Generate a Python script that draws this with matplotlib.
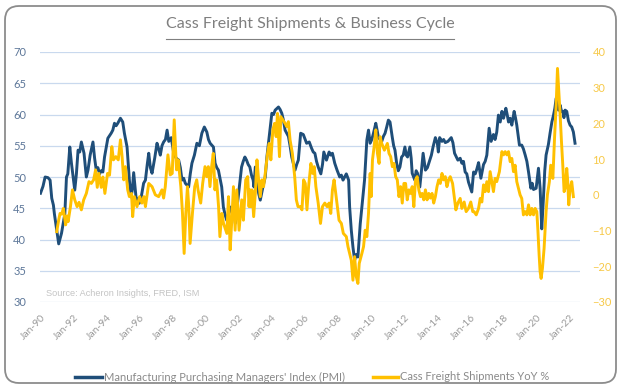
import matplotlib
matplotlib.use("Agg")
import matplotlib.pyplot as plt
from matplotlib.patches import FancyBboxPatch
from matplotlib.lines import Line2D
from matplotlib.transforms import IdentityTransform

# ---------------- data (decimal year, value) ----------------
pmi_t = [1990.00, 1990.15, 1990.28, 1990.45, 1990.58, 1990.68, 1990.78, 1990.84, 1990.98, 1991.10,
         1991.27, 1991.40, 1991.47, 1991.57, 1991.65, 1991.77, 1991.87, 1992.07, 1992.17, 1992.27,
         1992.37, 1992.47, 1992.63, 1992.77, 1992.87, 1993.00, 1993.17, 1993.27, 1993.37, 1993.47,
         1993.57, 1993.67, 1993.77, 1993.87, 1994.07, 1994.27, 1994.37, 1994.47, 1994.57, 1994.67,
         1994.83, 1994.97, 1995.07, 1995.23, 1995.37, 1995.47, 1995.55, 1995.63, 1995.77, 1995.97,
         1996.10, 1996.23, 1996.34, 1996.45, 1996.54, 1996.64, 1996.74, 1996.90, 1997.04, 1997.14,
         1997.24, 1997.34, 1997.44, 1997.55, 1997.65, 1997.75, 1997.90, 1998.05, 1998.20, 1998.35,
         1998.45, 1998.55, 1998.65, 1998.75, 1998.95, 1999.05, 1999.15, 1999.30, 1999.45, 1999.60,
         1999.75, 1999.90, 2000.05, 2000.15, 2000.25, 2000.45, 2000.55, 2000.65, 2000.75, 2000.95,
         2001.05, 2001.15, 2001.25, 2001.35, 2001.45, 2001.55, 2001.65, 2001.70, 2001.77, 2001.95,
         2002.05, 2002.15, 2002.25, 2002.35, 2002.45, 2002.55, 2002.65, 2002.75, 2002.85, 2002.90,
         2002.98, 2003.08, 2003.18, 2003.28, 2003.44, 2003.58, 2003.68, 2003.84, 2003.98, 2004.08,
         2004.18, 2004.38, 2004.48, 2004.58, 2004.68, 2004.78, 2004.88, 2004.98, 2005.08, 2005.18,
         2005.38, 2005.48, 2005.58, 2005.72, 2005.88, 2006.08, 2006.24, 2006.38, 2006.48, 2006.58,
         2006.68, 2006.78, 2006.94, 2007.04, 2007.12, 2007.28, 2007.44, 2007.54, 2007.64, 2007.78,
         2007.92, 2008.08, 2008.18, 2008.28, 2008.38, 2008.48, 2008.62, 2008.68, 2008.78, 2008.88,
         2008.98, 2009.08, 2009.18, 2009.32, 2009.45, 2009.58, 2009.72, 2009.82, 2009.92, 2010.02,
         2010.12, 2010.26, 2010.34, 2010.42, 2010.52, 2010.62, 2010.72, 2010.82, 2010.92, 2011.02,
         2011.12, 2011.26, 2011.34, 2011.42, 2011.52, 2011.62, 2011.72, 2011.82, 2011.92, 2012.02,
         2012.10, 2012.18, 2012.32, 2012.40, 2012.46, 2012.62, 2012.70, 2012.78, 2012.92, 2013.02,
         2013.12, 2013.26, 2013.38, 2013.52, 2013.62, 2013.72, 2013.86, 2013.98, 2014.04, 2014.12,
         2014.26, 2014.36, 2014.46, 2014.62, 2014.72, 2014.82, 2014.92, 2015.02, 2015.22, 2015.36,
         2015.46, 2015.56, 2015.66, 2015.76, 2015.86, 2016.06, 2016.17, 2016.27, 2016.37, 2016.47,
         2016.61, 2016.77, 2016.87, 2016.97, 2017.11, 2017.23, 2017.37, 2017.47, 2017.57, 2017.67,
         2017.78, 2017.88, 2017.98, 2018.12, 2018.20, 2018.28, 2018.38, 2018.48, 2018.62, 2018.70,
         2018.78, 2018.94, 2019.08, 2019.18, 2019.29, 2019.39, 2019.49, 2019.63, 2019.71, 2019.79,
         2019.95, 2020.09, 2020.19, 2020.29, 2020.39, 2020.47, 2020.55, 2020.69, 2020.79, 2020.90,
         2021.00, 2021.08, 2021.16, 2021.30, 2021.40, 2021.48, 2021.56, 2021.63, 2021.70, 2021.80,
         2021.90, 2022.00, 2022.10, 2022.20, 2022.30]
pmi_v = [47.4, 48.5, 50.0, 49.9, 49.5, 46.6, 45.5, 44.1, 41.5, 39.3,
         41.0, 43.0, 44.1, 50.0, 50.5, 54.8, 52.2, 47.9, 50.5, 54.3,
         54.0, 55.6, 53.8, 50.0, 51.1, 53.5, 55.6, 53.0, 51.1, 51.5,
         50.5, 51.0, 50.8, 53.2, 56.2, 57.0, 57.5, 58.6, 58.2, 58.6,
         59.4, 58.8, 57.0, 54.8, 49.5, 46.8, 48.0, 50.7, 46.8, 45.8,
         47.0, 49.0, 49.5, 52.0, 53.8, 51.5, 50.6, 53.0, 55.4, 54.5,
         53.5, 55.0, 55.6, 56.0, 57.5, 55.7, 56.3, 53.8, 53.0, 52.7,
         51.5, 49.5, 49.8, 49.0, 48.4, 50.5, 52.2, 53.5, 55.4, 55.0,
         57.0, 58.0, 57.2, 56.0, 55.4, 54.8, 52.2, 51.5, 51.1, 48.4,
         45.2, 44.0, 43.1, 44.0, 45.2, 44.5, 43.6, 46.6, 42.6, 46.8,
         49.0, 51.6, 52.5, 53.2, 52.7, 52.0, 51.6, 50.3, 49.5, 48.4,
         51.6, 49.5, 47.4, 46.3, 48.4, 50.0, 53.2, 57.0, 60.2, 60.0,
         60.7, 61.2, 60.8, 60.2, 59.1, 57.5, 57.0, 56.5, 55.0, 53.2,
         51.1, 52.0, 52.7, 57.0, 56.8, 55.4, 55.6, 54.6, 54.0, 53.8,
         52.5, 51.6, 50.5, 52.0, 54.0, 52.7, 54.0, 53.5, 53.8, 52.2,
         51.1, 50.0, 50.3, 49.5, 50.0, 50.5, 49.5, 45.2, 41.5, 38.8,
         36.7, 37.6, 37.2, 42.5, 46.0, 49.5, 55.9, 57.5, 55.4, 56.0,
         57.0, 58.6, 57.5, 56.3, 56.0, 55.7, 56.5, 57.0, 58.0, 59.1,
         58.8, 56.3, 55.0, 54.3, 52.2, 51.0, 51.6, 53.2, 53.5, 54.8,
         53.5, 53.2, 54.8, 53.0, 50.6, 49.5, 51.0, 50.6, 48.4, 51.0,
         53.8, 51.1, 51.5, 52.7, 53.5, 54.8, 56.3, 55.4, 54.0, 56.3,
         55.7, 56.0, 55.5, 55.7, 56.0, 56.3, 55.5, 53.8, 52.7, 53.0,
         52.2, 52.5, 50.8, 50.5, 49.2, 47.6, 50.8, 50.5, 51.3, 52.3,
         49.8, 52.0, 52.5, 53.5, 57.8, 55.7, 56.8, 56.0, 57.2, 59.9,
         58.8, 60.5, 59.4, 61.0, 60.0, 58.8, 59.4, 58.3, 60.5, 59.5,
         58.3, 55.1, 55.1, 54.5, 53.5, 52.5, 50.8, 48.2, 49.0, 48.0,
         48.2, 51.4, 48.2, 41.7, 46.6, 51.0, 53.5, 55.2, 57.0, 58.8,
         59.9, 61.0, 62.6, 60.7, 61.5, 60.5, 60.5, 59.5, 60.7, 60.5,
         59.0, 58.3, 58.0, 57.2, 55.4]

cass_t = [1990.98, 1991.10, 1991.18, 1991.28, 1991.38, 1991.52, 1991.60, 1991.67, 1991.81, 1991.93,
          1992.07, 1992.21, 1992.33, 1992.47, 1992.61, 1992.77, 1992.93, 1993.07, 1993.21, 1993.33,
          1993.43, 1993.53, 1993.67, 1993.77, 1993.89, 1994.05, 1994.17, 1994.31, 1994.41, 1994.55,
          1994.70, 1994.83, 1994.93, 1995.03, 1995.13, 1995.27, 1995.37, 1995.50, 1995.57, 1995.67,
          1995.83, 1995.99, 1996.13, 1996.25, 1996.34, 1996.54, 1996.74, 1996.94, 1997.14, 1997.34,
          1997.44, 1997.54, 1997.70, 1997.84, 1997.96, 1998.08, 1998.22, 1998.32, 1998.48, 1998.58,
          1998.68, 1998.78, 1998.88, 1998.96, 1999.04, 1999.18, 1999.32, 1999.44, 1999.52, 1999.60,
          1999.68, 1999.80, 1999.94, 2000.04, 2000.14, 2000.24, 2000.34, 2000.44, 2000.54, 2000.64,
          2000.76, 2000.84, 2000.96, 2001.06, 2001.26, 2001.36, 2001.46, 2001.56, 2001.66, 2001.76,
          2001.86, 2002.00, 2002.16, 2002.26, 2002.40, 2002.52, 2002.60, 2002.66, 2002.72, 2002.78,
          2002.88, 2002.98, 2003.08, 2003.18, 2003.28, 2003.38, 2003.48, 2003.58, 2003.72, 2003.82,
          2003.92, 2004.04, 2004.14, 2004.24, 2004.32, 2004.44, 2004.52, 2004.64, 2004.78, 2004.88,
          2004.98, 2005.08, 2005.22, 2005.36, 2005.46, 2005.56, 2005.70, 2005.80, 2005.90, 2006.00,
          2006.10, 2006.20, 2006.34, 2006.44, 2006.54, 2006.64, 2006.78, 2006.92, 2007.04, 2007.18,
          2007.32, 2007.44, 2007.54, 2007.64, 2007.74, 2007.84, 2007.94, 2008.04, 2008.18, 2008.30,
          2008.48, 2008.58, 2008.68, 2008.78, 2008.88, 2008.98, 2009.08, 2009.18, 2009.26, 2009.42,
          2009.52, 2009.62, 2009.72, 2009.82, 2009.92, 2009.98, 2010.06, 2010.16, 2010.26, 2010.36,
          2010.46, 2010.52, 2010.62, 2010.78, 2010.96, 2011.06, 2011.16, 2011.26, 2011.36, 2011.46,
          2011.56, 2011.66, 2011.76, 2011.86, 2011.96, 2012.06, 2012.16, 2012.26, 2012.36, 2012.46,
          2012.56, 2012.66, 2012.76, 2012.86, 2012.96, 2013.06, 2013.16, 2013.26, 2013.36, 2013.46,
          2013.56, 2013.66, 2013.76, 2013.86, 2013.96, 2014.06, 2014.16, 2014.26, 2014.36, 2014.46,
          2014.56, 2014.66, 2014.76, 2014.90, 2015.00, 2015.10, 2015.22, 2015.36, 2015.46, 2015.60,
          2015.72, 2015.86, 2016.00, 2016.12, 2016.20, 2016.33, 2016.47, 2016.57, 2016.67, 2016.77,
          2016.87, 2016.97, 2017.07, 2017.17, 2017.27, 2017.37, 2017.47, 2017.57, 2017.73, 2017.88,
          2017.98, 2018.08, 2018.18, 2018.28, 2018.38, 2018.48, 2018.58, 2018.68, 2018.78, 2018.88,
          2018.98, 2019.08, 2019.18, 2019.29, 2019.39, 2019.49, 2019.59, 2019.69, 2019.79, 2019.89,
          2019.99, 2020.05, 2020.13, 2020.19, 2020.25, 2020.33, 2020.43, 2020.55, 2020.63, 2020.75,
          2020.83, 2020.96, 2021.06, 2021.16, 2021.24, 2021.32, 2021.40, 2021.48, 2021.56, 2021.64,
          2021.70, 2021.80, 2021.86, 2021.92, 2022.00, 2022.10, 2022.20]
cass_v = [-10.3, -7.0, -5.2, -5.4, -3.8, -8.4, -5.9, -7.5, -3.3, 1.4,
          -1.4, -3.3, -2.1, -4.2, -1.4, 0.4, 3.7, 3.2, 4.2, 7.0,
          2.1, 6.0, 2.1, 5.0, 0.4, 6.0, 5.5, 13.5, 9.8, 10.7,
          9.8, 15.4, 10.7, 4.2, 7.9, 1.4, -0.5, 0.4, -6.1, -0.5,
          -3.3, -0.5, -2.3, -0.5, -3.3, 3.2, 2.3, 0.0, -0.5, 1.4,
          -0.9, 2.3, 11.2, 5.6, 6.0, 21.0, 7.0, 9.8, 2.3, -5.2,
          -16.4, -5.2, 2.3, -3.3, -13.6, -5.2, 2.3, 4.2, 1.4, -0.5,
          -2.3, 3.2, 7.9, 5.1, 7.9, 2.3, 7.9, 11.6, 1.4, 4.2,
          -3.3, -11.7, -5.2, -8.0, -10.8, -0.5, -15.4, -7.1, 2.3, -9.9,
          1.4, -9.9, -1.4, -7.1, 4.2, 5.1, -3.3, 1.4, -3.3, 1.4,
          -6.1, 0.4, 9.8, 4.2, -0.5, 4.2, 2.3, 6.0, 11.6, 14.4,
          9.8, 18.2, 20.0, 16.3, 22.8, 10.7, 21.9, 21.0, 20.0, 19.1,
          20.5, 15.4, 11.6, 5.1, -1.4, -3.3, -3.3, -4.2, 4.2, 3.2,
          -4.2, 2.3, 8.8, 6.0, 7.9, 2.3, -2.3, -8.0, -3.3, -2.3,
          -3.3, -2.3, -5.2, 1.4, 4.2, 0.4, -3.3, -7.1, -8.0, -10.8,
          -11.7, -14.5, -16.4, -18.3, -23.9, -17.3, -22.9, -24.8, -19.2, -16.4,
          -14.5, -9.9, -11.7, -5.2, 6.0, -0.5, 9.8, 13.5, 18.2, 11.6,
          8.8, 16.3, 14.4, 12.5, 14.4, 11.6, 10.7, 7.9, 8.8, 5.1,
          4.2, -0.5, 2.3, -2.3, 3.2, 3.2, -1.4, 1.4, 0.4, 2.3,
          -3.3, 4.2, 5.1, 1.4, -0.5, 0.4, -1.4, 1.4, -1.4, 0.4,
          -0.9, 0.4, -2.3, -0.5, 2.3, 4.2, 3.2, 6.0, 4.2, 5.1,
          2.3, 4.2, 5.1, 3.2, -0.5, -4.2, -2.3, -1.0, -3.8, -2.0,
          -4.7, -3.8, -2.0, -4.7, -4.7, -5.6, -3.8, -1.0, -2.0, 2.8,
          0.9, 3.7, 0.9, 6.5, 3.7, 0.9, 4.6, 3.7, 6.5, 12.1,
          11.2, 12.1, 11.2, 12.1, 9.3, 10.2, 6.5, 8.3, 3.7, 1.8,
          0.0, -1.0, -5.6, -4.7, -5.6, -2.8, -5.6, -3.8, -5.6, -3.8,
          -4.7, -9.4, -16.8, -21.5, -23.4, -20.6, -15.0, -4.7, 0.0, 3.7,
          8.3, 4.6, 15.8, 25.2, 35.4, 28.9, 22.4, 14.9, 8.3, 0.9,
          1.8, 7.4, 3.7, -2.8, 1.8, 3.7, -0.5]

tick_years = list(range(1990, 2023, 2))
tick_labels = ["Jan-%02d" % (y % 100) for y in tick_years]
left_ticks = [30, 35, 40, 45, 50, 55, 60, 65, 70]
right_ticks = [-30, -20, -10, 0, 10, 20, 30, 40]

title = "Cass Freight Shipments & Business Cycle"
pmi_name = "Manufacturing Purchasing Managers' Index (PMI)"
cass_name = "Cass Freight Shipments YoY %"
source = "Source: Acheron Insights, FRED, ISM"

# ---------------- styling ----------------
BLUE = "#1f4e79"
GOLD = "#ffc000"
W, H = 621, 388

fig = plt.figure(figsize=(W / 100, H / 100), dpi=100)
fig.patch.set_facecolor("white")

ax = fig.add_axes([40 / W, 1 - 302 / H, 540 / W, 250 / H])
ax2 = ax.twinx()

ax.set_xlim(1989.97, 2022.6)
ax.set_ylim(30, 70)
ax2.set_ylim(-30, 40)

for a in (ax, ax2):
    for s in a.spines.values():
        s.set_visible(False)
    a.set_facecolor("none")

ax.set_yticks(left_ticks)
ax.yaxis.grid(True, color="#c9d9ee", linewidth=0.9)
ax.set_axisbelow(True)
ax.tick_params(axis="y", length=0, pad=10, labelsize=8, labelcolor="#5d7799")
for lab in ax.get_yticklabels():
    lab.set_fontfamily("Lato")

ax2.set_yticks(right_ticks)
ax2.tick_params(axis="y", length=0, pad=9, labelsize=8, labelcolor="#f7c948")
for lab in ax2.get_yticklabels():
    lab.set_fontfamily("Lato")

ax.set_xticks(tick_years)
ax.set_xticklabels(tick_labels, rotation=45, ha="right", rotation_mode="anchor",
                   fontsize=7.5, color="#9a9a9a", fontfamily="Lato")
ax.tick_params(axis="x", length=0, pad=8)

ax.plot(pmi_t, pmi_v, color=BLUE, linewidth=2.1, solid_joinstyle="round", zorder=3)
ax2.plot(cass_t, cass_v, color=GOLD, linewidth=2.1, solid_joinstyle="round", zorder=3)

# source note
fig.text(46 / W, 1 - 294 / H, source, fontsize=6.6, color="#c4c4c4",
         fontfamily="Liberation Sans", va="center", ha="left")

# title with underline
t = fig.text(310 / W, 1 - 24 / H, title, fontsize=11.5, color="#7f7f7f",
             fontfamily="Lato", ha="center", va="center")
fig.canvas.draw()
bb = t.get_window_extent()
fig.add_artist(Line2D([bb.x0 / W, bb.x1 / W], [(H - 38.5) / H, (H - 38.5) / H],
                      color="#7f7f7f", linewidth=0.8))

# legend
ly = 1 - 377 / H
fig.add_artist(Line2D([75 / W, 102 / W], [ly, ly], color=BLUE, linewidth=2.5))
fig.text(104 / W, ly, pmi_name, fontsize=8, color="#8a8a8a", fontfamily="Lato",
         va="center", ha="left")
fig.add_artist(Line2D([373 / W, 398 / W], [ly, ly], color=GOLD, linewidth=2.5))
fig.text(400 / W, ly, cass_name, fontsize=8, color="#8a8a8a", fontfamily="Lato",
         va="center", ha="left")

# rounded border
border = FancyBboxPatch((5, 5), W - 10, H - 11,
                        boxstyle="round,pad=0,rounding_size=14",
                        transform=IdentityTransform(), facecolor="none",
                        edgecolor="#8c8c8c", linewidth=1.3)
fig.add_artist(border)

fig.savefig("out.png", dpi=100, facecolor="white")
